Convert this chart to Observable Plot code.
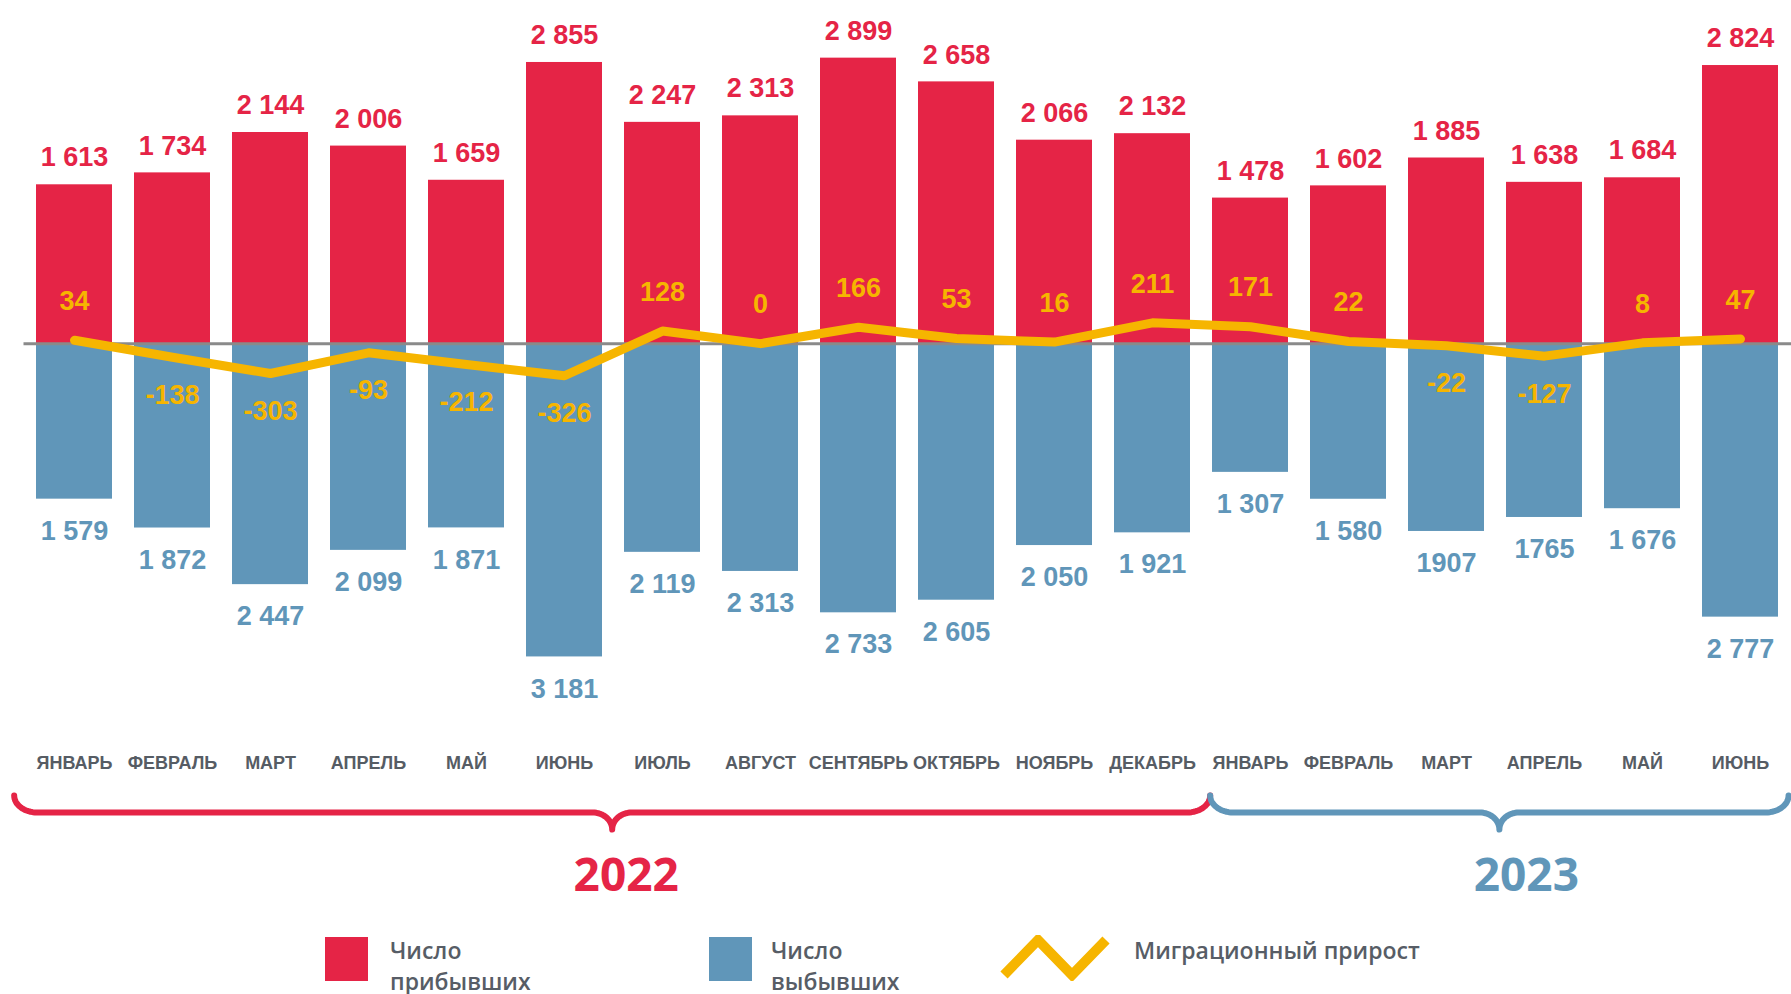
<!DOCTYPE html>
<html>
<head>
<meta charset="utf-8">
<script src="https://cdn.jsdelivr.net/npm/d3@7"></script>
<script src="https://cdn.jsdelivr.net/npm/@observablehq/plot@0.6"></script>
<style>
  html, body { margin: 0; padding: 0; background: #fff; overflow: hidden; }
  #wrap { position: relative; width: 1791px; height: 994px; }
  #chart, #braces { display: block; line-height: 0; }
  #legend { position: relative; width: 1791px; height: 94px; font-family: "Open Sans", sans-serif; font-weight: 600; font-size: 23px; line-height: 31px; color: #575d66; }
  #legend .sw { position: absolute; top: 37px; width: 43px; height: 44px; }
  #legend .lt { position: absolute; top: 35px; white-space: nowrap; }
  #legend svg { position: absolute; left: 1000px; top: 35px; }
</style>
</head>
<body>
<div id="wrap">
  <div id="chart"></div>
  <div id="braces"></div>
  <div id="legend"></div>
</div>
<script>
// ---- data ----
const months2022 = ["ЯНВАРЬ", "ФЕВРАЛЬ", "МАРТ", "АПРЕЛЬ", "МАЙ", "ИЮНЬ", "ИЮЛЬ", "АВГУСТ", "СЕНТЯБРЬ", "ОКТЯБРЬ", "НОЯБРЬ", "ДЕКАБРЬ"];
const months2023 = ["ЯНВАРЬ", "ФЕВРАЛЬ", "МАРТ", "АПРЕЛЬ", "МАЙ", "ИЮНЬ"];
const years = ["2022", "2023"];
const arrivals = [1613, 1734, 2144, 2006, 1659, 2855, 2247, 2313, 2899, 2658, 2066, 2132, 1478, 1602, 1885, 1638, 1684, 2824];
const departures = [1579, 1872, 2447, 2099, 1871, 3181, 2119, 2313, 2733, 2605, 2050, 1921, 1307, 1580, 1907, 1765, 1676, 2777];
const departureLabels = ["1 579", "1 872", "2 447", "2 099", "1 871", "3 181", "2 119", "2 313", "2 733", "2 605", "2 050", "1 921", "1 307", "1 580", "1907", "1765", "1 676", "2 777"];
const netMigration = [34, -138, -303, -93, -212, -326, 128, 0, 166, 53, 16, 211, 171, 22, -22, -127, 8, 47];
const legendLabels = ["Число<br>прибывших", "Число<br>выбывших", "Миграционный прирост"];

// ---- styles ----
const RED = "#E52446", BLUE = "#6096B9", YELLOW = "#F6B500", GRAY = "#565c64";
const NUMFONT = "'Liberation Sans', Arial, sans-serif";

const fmt = n => n >= 1000 ? `${Math.floor(n / 1000)} ${String(n % 1000).padStart(3, "0")}` : String(n);

const months = [
  ...months2022.map((m, i) => ({key: `${years[0]}-${i}`, month: m, year: years[0]})),
  ...months2023.map((m, i) => ({key: `${years[1]}-${i}`, month: m, year: years[1]}))
];
const data = months.map((d, i) => ({
  ...d, i,
  arrivals: arrivals[i],
  departures: -departures[i],
  depLabel: departureLabels[i],
  net: netMigration[i]
}));

const W = 1791;
const chart = Plot.plot({
  width: W,
  height: 780,
  marginLeft: 23.5,
  marginRight: 0,
  marginTop: 28,
  marginBottom: 102,
  x: {type: "band", domain: months.map(d => d.key), paddingInner: 0.223, paddingOuter: 0.1115, axis: null},
  y: {domain: [-3400, 3200], axis: null},
  style: {fontFamily: NUMFONT, background: "#fff"},
  marks: [
    Plot.barY(data, {x: "key", y: "arrivals", fill: RED}),
    Plot.barY(data, {x: "key", y: "departures", fill: BLUE}),
    Plot.ruleY([0], {stroke: "#8a8a8a", strokeWidth: 3}),
    Plot.line(data, {x: "key", y: "net", stroke: YELLOW, strokeWidth: 9, strokeLinecap: "round", strokeLinejoin: "round"}),
    Plot.text(data, {x: "key", y: "arrivals", text: d => fmt(d.arrivals), dy: -27, fill: RED, fontSize: 27, fontWeight: "bold"}),
    Plot.text(data, {x: "key", y: "departures", text: "depLabel", dy: 32, fill: BLUE, fontSize: 27, fontWeight: "bold"}),
    Plot.text(data.filter(d => d.net >= 0), {x: "key", y: "net", text: d => String(d.net), dy: -39, fill: YELLOW, fontSize: 27, fontWeight: "bold"}),
    Plot.text(data.filter(d => d.net < 0), {x: "key", y: "net", text: d => String(d.net), dy: 38, fill: YELLOW, fontSize: 27, fontWeight: "bold"}),
    Plot.text(data, {x: "key", text: "month", frameAnchor: "bottom", dy: 90, fill: GRAY, fontSize: 18, fontWeight: "bold"})
  ]
});
document.getElementById("chart").appendChild(chart);

// ---- braces with year labels ----
// brace edges in month-index units: start of 2022, junction, end of 2023
const braceEdges = [-0.6, 11.58, 17.47];
const groups = [
  {year: years[0], lo: braceEdges[0], hi: braceEdges[1]},
  {year: years[1], lo: braceEdges[1], hi: braceEdges[2]}
];
function bracePoints(g) {
  const x0 = g.lo, x1 = g.hi, xm = (x0 + x1) / 2;
  const R = 0.235, r = 0.2, N = 16, pts = [];
  for (let k = 0; k <= N; k++) { const t = k / N * Math.PI / 2; pts.push({x: x0 + R - R * Math.cos(t), y: 0.5 * Math.sin(t)}); }
  for (let k = 0; k <= N; k++) { const t = k / N * Math.PI / 2; pts.push({x: xm - r + r * Math.sin(t), y: 1 - 0.5 * Math.cos(t)}); }
  for (let k = N; k >= 0; k--) { const t = k / N * Math.PI / 2; pts.push({x: xm + r - r * Math.sin(t), y: 1 - 0.5 * Math.cos(t)}); }
  for (let k = N; k >= 0; k--) { const t = k / N * Math.PI / 2; pts.push({x: x1 - R + R * Math.cos(t), y: 0.5 * Math.sin(t)}); }
  return pts.map(p => ({...p, year: g.year}));
}
const braceData = groups.flatMap(bracePoints);
const yearText = {text: "year", fill: "year", frameAnchor: "bottom", dy: 61, fontSize: 46, fontWeight: "bold"};
const braces = Plot.plot({
  width: W,
  height: 120,
  marginLeft: 23.5,
  marginRight: 0,
  marginTop: 15,
  marginBottom: 71,
  x: {domain: [-0.5, months.length - 0.5], axis: null},
  y: {domain: [0, 1], reverse: true, axis: null},
  color: {domain: years, range: [RED, BLUE]},
  style: {fontFamily: "'Open Sans', sans-serif", background: "#fff", overflow: "visible"},
  marks: [
    Plot.line(braceData, {x: "x", y: "y", z: "year", stroke: "year", strokeWidth: 6, strokeLinecap: "round", strokeLinejoin: "round"}),
    Plot.text([groups[0]], {...yearText, x: g => (g.lo + g.hi) / 2, dx: 14}),
    Plot.text([groups[1]], {...yearText, x: g => (g.lo + g.hi) / 2, dx: 27})
  ]
});
document.getElementById("braces").appendChild(braces);

// ---- legend ----
document.getElementById("legend").innerHTML = `
  <div class="sw" style="left:325px;background:${RED}"></div>
  <div class="lt" style="left:390px">${legendLabels[0]}</div>
  <div class="sw" style="left:709px;background:${BLUE}"></div>
  <div class="lt" style="left:771px">${legendLabels[1]}</div>
  <svg width="112" height="46"><polyline points="4,40 38,5 72,40 106,5" fill="none" stroke="${YELLOW}" stroke-width="10"/></svg>
  <div class="lt" style="left:1134px;top:35px">${legendLabels[2]}</div>
`;
</script>
</body>
</html>
